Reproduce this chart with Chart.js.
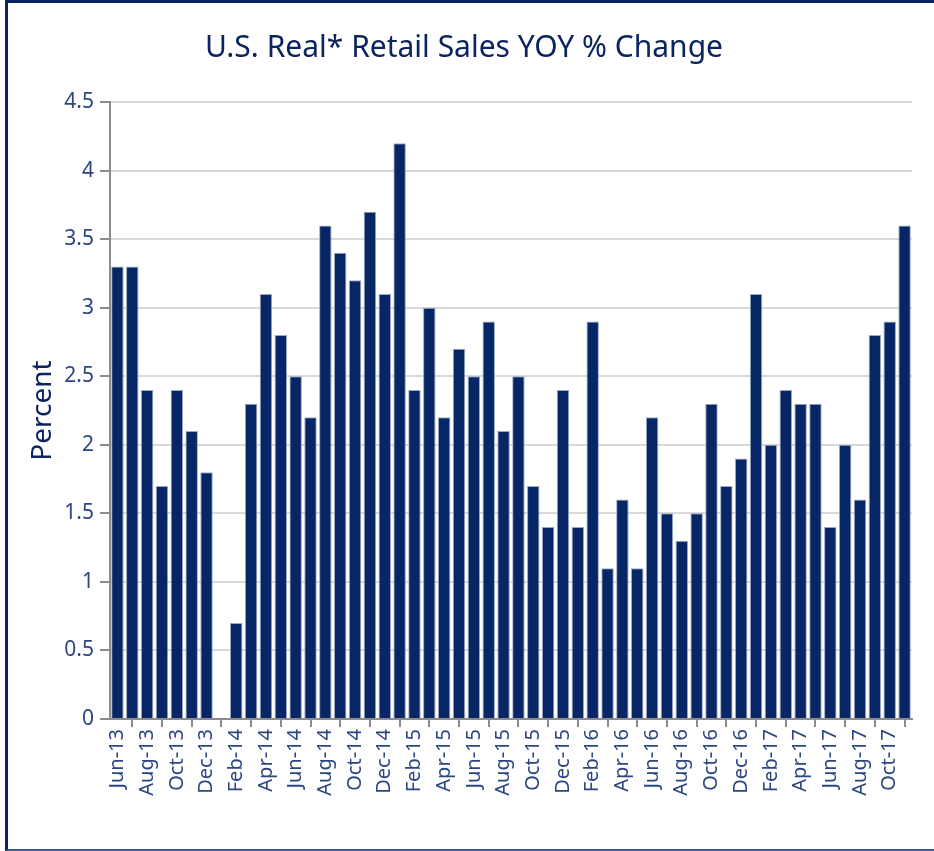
<!DOCTYPE html>
<html>
<head>
<meta charset="utf-8">
<script src="https://cdn.jsdelivr.net/npm/chart.js@4/dist/chart.umd.min.js"></script>
<style>
  body { margin: 0; background: #fff; }
  #frame {
    position: absolute; left: 5px; top: 0;
    width: 926px; height: 846px;
    border-top: 3px solid #0b2461;
    border-left: 3px solid #0b2461;
    border-bottom: 2px solid #3d5a94;
  }
  #chartBox { position: relative; width: 926px; height: 846px; }
</style>
</head>
<body>
<div id="frame"><div id="chartBox"><canvas id="retailCanvas"></canvas></div></div>
<script>
const CANVAS_ID = 'retailCanvas';

const months = [
  'Jun-13','Jul-13','Aug-13','Sep-13','Oct-13','Nov-13','Dec-13',
  'Jan-14','Feb-14','Mar-14','Apr-14','May-14','Jun-14','Jul-14','Aug-14','Sep-14','Oct-14','Nov-14','Dec-14',
  'Jan-15','Feb-15','Mar-15','Apr-15','May-15','Jun-15','Jul-15','Aug-15','Sep-15','Oct-15','Nov-15','Dec-15',
  'Jan-16','Feb-16','Mar-16','Apr-16','May-16','Jun-16','Jul-16','Aug-16','Sep-16','Oct-16','Nov-16','Dec-16',
  'Jan-17','Feb-17','Mar-17','Apr-17','May-17','Jun-17','Jul-17','Aug-17','Sep-17','Oct-17','Nov-17'
];

const yoyChange = [
  3.3, 3.3, 2.4, 1.7, 2.4, 2.1, 1.8,
  0, 0.7, 2.3, 3.1, 2.8, 2.5, 2.2, 3.6, 3.4, 3.2, 3.7, 3.1,
  4.2, 2.4, 3.0, 2.2, 2.7, 2.5, 2.9, 2.1, 2.5, 1.7, 1.4, 2.4,
  1.4, 2.9, 1.1, 1.6, 1.1, 2.2, 1.5, 1.3, 1.5, 2.3, 1.7, 1.9,
  3.1, 2.0, 2.4, 2.3, 2.3, 1.4, 2.0, 1.6, 2.8, 2.9, 3.6
];

const yTicks = [0, 0.5, 1, 1.5, 2, 2.5, 3, 3.5, 4, 4.5];

const NAVY = '#072665';
const LABEL_COLOR = '#2c4680';
const FONT = '"Noto Sans", sans-serif';

let retailChart = new Chart(document.getElementById(CANVAS_ID), {
  type: 'bar',
  data: {
    labels: months,
    datasets: [{
      label: 'YOY % Change',
      data: yoyChange,
      backgroundColor: NAVY,
      borderColor: '#9aa8c6',
      borderWidth: 1,
      barPercentage: 0.84,
      categoryPercentage: 1.0
    }]
  },
  options: {
    responsive: true,
    maintainAspectRatio: false,
    animation: false,
    layout: { padding: { left: 8, right: 22, top: 0, bottom: 20 } },
    plugins: {
      legend: { display: false },
      tooltip: { enabled: false },
      title: {
        display: true,
        text: 'U.S. Real* Retail Sales YOY % Change',
        color: '#0b2461',
        font: { family: FONT, size: 30, weight: 'normal', lineHeight: 1.2 },
        padding: { top: 27, bottom: 36 }
      }
    },
    scales: {
      x: {
        grid: {
          display: true,
          drawOnChartArea: false,
          offset: true,
          color: '#8c8c8c',
          tickLength: 8,
          lineWidth: 2
        },
        border: { color: '#8c8c8c', width: 2 },
        ticks: {
          autoSkip: false,
          maxRotation: 90,
          minRotation: 90,
          color: LABEL_COLOR,
          padding: 2,
          font: { family: FONT, size: 20 },
          callback: function (value, index) {
            return index % 2 === 0 ? months[index] : null;
          }
        },
        afterFit: function (scale) { scale.height = 110; }
      },
      y: {
        min: yTicks[0],
        max: yTicks[yTicks.length - 1],
        grid: {
          color: '#d9d9d9',
          lineWidth: 2,
          tickColor: '#8c8c8c',
          tickLength: 10
        },
        border: { color: '#8c8c8c', width: 2 },
        afterBuildTicks: function (scale) {
          scale.ticks = yTicks.map(v => ({ value: v }));
        },
        ticks: {
          color: LABEL_COLOR,
          padding: 6,
          font: { family: FONT, size: 21 },
          callback: function (value) { return String(value); }
        },
        title: {
          display: true,
          text: 'Percent',
          color: '#0b2461',
          font: { family: FONT, size: 28 },
          padding: { top: 10, bottom: 0 }
        },
        afterFit: function (scale) { scale.width = 94; }
      }
    }
  }
});
</script>
</body>
</html>
